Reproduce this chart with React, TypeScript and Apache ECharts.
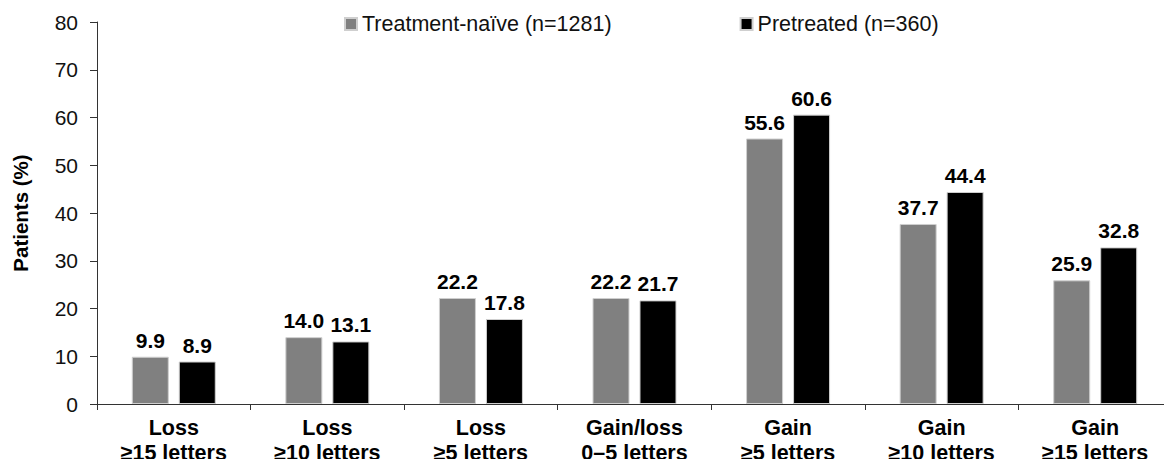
import React, { useEffect, useRef } from "react";
import * as echarts from "echarts";

const categories = [
  "Loss\n≥15 letters",
  "Loss\n≥10 letters",
  "Loss\n≥5 letters",
  "Gain/loss\n0–5 letters",
  "Gain\n≥5 letters",
  "Gain\n≥10 letters",
  "Gain\n≥15 letters",
];
const naiveValues = [9.9, 14.0, 22.2, 22.2, 55.6, 37.7, 25.9];
const pretreatedValues = [8.9, 13.1, 17.8, 21.7, 60.6, 44.4, 32.8];
const seriesNames = ["Treatment-naïve (n=1281)", "Pretreated (n=360)"];

export default function App() {
  const ref = useRef<HTMLDivElement>(null);
  useEffect(() => {
    if (!ref.current) return;
    const chart = echarts.init(ref.current, undefined, { renderer: "svg" });
    const font = "Liberation Sans, Arial, sans-serif";
    const label = {
      show: true,
      position: "top",
      distance: 6,
      fontFamily: font,
      fontSize: 21,
      fontWeight: "bold",
      color: "#000",
      formatter: (p: any) => Number(p.value).toFixed(1),
    };
    chart.setOption({
      animation: false,
      textStyle: { fontFamily: font },
      legend: {
        top: 8,
        left: 339,
        itemWidth: 12,
        itemHeight: 12,
        itemGap: 128,
        icon: "rect",
        textStyle: { fontFamily: font, fontSize: 21.5, color: "#111" },
        data: seriesNames,
      },
      grid: { left: 97, top: 22, width: 1085, height: 382, containLabel: false },
      xAxis: {
        type: "category",
        data: categories,
        axisLine: { lineStyle: { color: "#333", width: 1 } },
        axisTick: { show: true, alignWithLabel: false, length: 6, lineStyle: { color: "#333" } },
        axisLabel: {
          fontFamily: font,
          fontSize: 21.5,
          fontWeight: "bold",
          color: "#000",
          lineHeight: 25,
          margin: 11,
          interval: 0,
        },
      },
      yAxis: {
        type: "value",
        min: 0,
        max: 80,
        interval: 10,
        name: "Patients (%)",
        nameLocation: "middle",
        nameGap: 66,
        nameRotate: 90,
        nameTextStyle: { fontFamily: font, fontSize: 20.5, fontWeight: "bold", color: "#000" },
        axisLine: { show: true, lineStyle: { color: "#333", width: 1 } },
        axisTick: { show: true, length: 7, lineStyle: { color: "#333" } },
        splitLine: { show: false },
        axisLabel: { fontFamily: font, fontSize: 21, color: "#111", margin: 19 },
      },
      series: [
        {
          name: seriesNames[0],
          type: "bar",
          data: naiveValues,
          barWidth: 37,
          barGap: "27%",
          itemStyle: { color: "#808080", borderColor: "#cfcfcf", borderWidth: 1 },
          label,
        },
        {
          name: seriesNames[1],
          type: "bar",
          data: pretreatedValues,
          barWidth: 37,
          barGap: "27%",
          itemStyle: { color: "#000000", borderColor: "#cfcfcf", borderWidth: 1 },
          label,
        },
      ],
    });
    return () => chart.dispose();
  }, []);
  return <div ref={ref} style={{ width: 1172, height: 467, margin: -8 }} />;
}
